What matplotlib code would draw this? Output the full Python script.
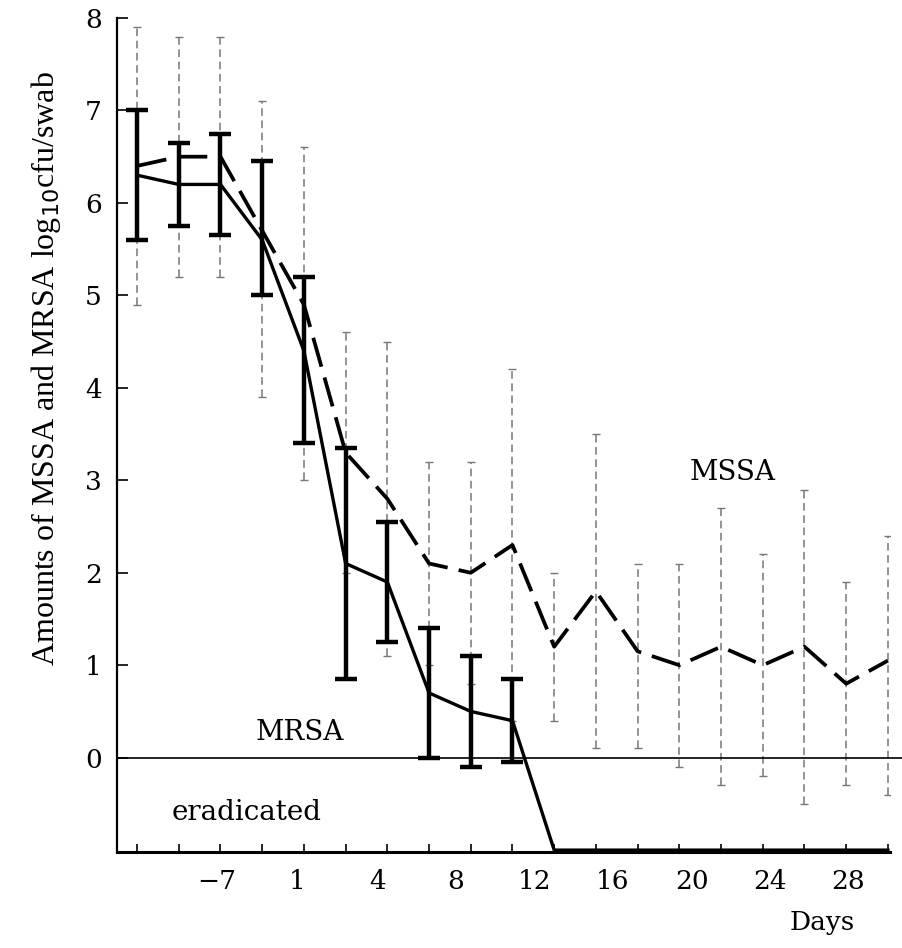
import numpy as np
import matplotlib
matplotlib.use("Agg")
import matplotlib.pyplot as plt

# sampling points (evenly spaced along the axis)
points = list(range(19))

# MSSA: mean and upper/lower ends of the dashed error bars
mssa_mean = [6.4, 6.5, 6.5, 5.7, 4.9, 3.3, 2.8, 2.1, 2.0, 2.3, 1.2, 1.8, 1.15, 1.0, 1.2, 1.0, 1.2, 0.8, 1.05]
mssa_hi = [7.9, 7.8, 7.8, 7.1, 6.6, 4.6, 4.5, 3.2, 3.2, 4.2, 2.0, 3.5, 2.1, 2.1, 2.7, 2.2, 2.9, 1.9, 2.4]
mssa_lo = [4.9, 5.2, 5.2, 3.9, 3.0, 2.0, 1.1, 1.0, 0.8, 0.4, 0.4, 0.1, 0.1, -0.1, -0.3, -0.2, -0.5, -0.3, -0.4]

# MRSA: mean (eradicated = -1 from point 10 on) and error bars for the first points
mrsa_mean = [6.3, 6.2, 6.2, 5.6, 4.4, 2.1, 1.9, 0.7, 0.5, 0.4, -1, -1, -1, -1, -1, -1, -1, -1, -1]
mrsa_hi = [7.0, 6.65, 6.75, 6.45, 5.2, 3.35, 2.55, 1.4, 1.1, 0.85]
mrsa_lo = [5.6, 5.75, 5.65, 5.0, 3.4, 0.85, 1.25, 0.0, -0.1, -0.05]

day_labels = ["\u22127", "1", "4", "8", "12", "16", "20", "24", "28"]
day_label_pos = [1.92, 3.84, 5.76, 7.63, 9.54, 11.39, 13.31, 15.18, 17.05]

serif = ["DejaVu Serif"]

fig = plt.figure(figsize=(9.03, 9.48), dpi=100)
ax = fig.add_axes([0.1296, 0.1013, 0.8560, 0.8797])

# MSSA dashed error bars (thin, gray)
x = np.array(points)
m = np.array(mssa_mean)
eb = ax.errorbar(x, m, yerr=[m - np.array(mssa_lo), np.array(mssa_hi) - m],
                 fmt="none", ecolor="#777777", elinewidth=1.1, capsize=3,
                 capthick=1.0, zorder=1)
eb[2][0].set_linestyle((0, (5, 3)))

# MSSA mean line (thick dashed)
ax.plot(x, m, color="black", lw=2.7, ls=(0, (8, 3)), zorder=3)

# MRSA error bars (thick, black)
n = len(mrsa_hi)
mr = np.array(mrsa_mean[:n])
ax.errorbar(x[:n], mr, yerr=[mr - np.array(mrsa_lo), np.array(mrsa_hi) - mr],
            fmt="none", ecolor="black", elinewidth=3.2, capsize=8,
            capthick=3.2, zorder=4)

# MRSA mean line
ax.plot(x, mrsa_mean, color="black", lw=2.4, zorder=5, clip_on=False)

# zero line, running out to the page edge
ax.plot([-0.48, 18.5], [0, 0], color="black", lw=1.2, clip_on=False, zorder=2)

ax.set_xlim(-0.48, 18.05)
ax.set_ylim(-1.02, 8)

ax.spines["top"].set_visible(False)
ax.spines["right"].set_visible(False)
ax.spines["left"].set_linewidth(1.6)
ax.spines["bottom"].set_linewidth(2.2)

ax.set_yticks(range(0, 9))
ax.set_yticklabels([str(v) for v in range(0, 9)], family=serif, fontsize=19)
ax.tick_params(axis="y", direction="in", length=8, width=1.2, pad=11)

ax.set_xticks(points)
ax.set_xticklabels([])
ax.tick_params(axis="x", which="major", direction="in", length=6, width=1.2)
ax.set_xticks(day_label_pos, minor=True)
ax.set_xticklabels(day_labels, minor=True, family=serif, fontsize=19)
ax.tick_params(axis="x", which="minor", length=0, pad=12)

ax.set_ylabel("Amounts of MSSA and MRSA log$_{10}$cfu/swab",
              family=["Liberation Serif"], fontsize=23)
ax.yaxis.set_label_coords(-0.07, 0.58)

ax.set_xlabel("Days", family=serif, fontsize=19)
ax.xaxis.set_label_coords(0.912, -0.07)

ax.text(733 / 903, 1 - 472 / 948, "MSSA", transform=fig.transFigure,
        family=serif, fontsize=20, ha="center", va="center")
ax.text(300 / 903, 1 - 732 / 948, "MRSA", transform=fig.transFigure,
        family=serif, fontsize=20, ha="center", va="center")
ax.text(247 / 903, 1 - 813 / 948, "eradicated", transform=fig.transFigure,
        family=serif, fontsize=20, ha="center", va="center")

fig.savefig("out.png", dpi=100)
